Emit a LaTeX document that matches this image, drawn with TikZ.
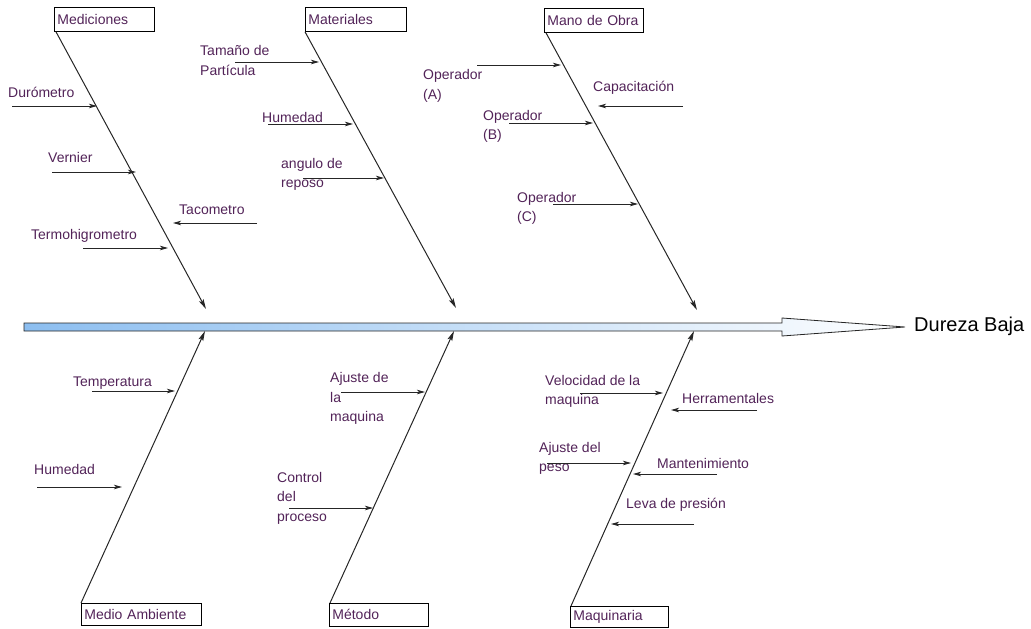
\documentclass[tikz,border=0pt]{standalone}
\usepackage{fontspec}
\setmainfont{Liberation Sans}
\usetikzlibrary{arrows.meta}
\definecolor{lbltext}{RGB}{82,35,88}
\definecolor{spineblue}{RGB}{140,190,240}
\begin{document}
\begin{tikzpicture}[x=1pt,y=-1pt,
  lbl/.style={font=\fontsize{14}{19.5}\selectfont, text=lbltext, inner sep=0pt, anchor=west, align=left},
  catbox/.style={draw=black, line width=0.8pt, anchor=north west, inner xsep=3pt, inner ysep=0pt,
    align=left, text width=#1, minimum height=24pt, font=\fontsize{14}{17}\selectfont, text=lbltext},
  bone/.style={-{Stealth[length=10pt,width=5pt,inset=2pt]}, line width=1pt, black!85},
  sub/.style={-{Stealth[length=8pt,width=4.5pt,inset=2pt]}, line width=0.8pt, black!85}]
\useasboundingbox (0,0) rectangle (1031,629);

% spine
\path[draw=black!85, line width=0.8pt, left color=spineblue, right color=white]
  (24,323) -- (782,323) -- (782,318) -- (905,327) -- (782,336) -- (782,331) -- (24,331) -- cycle;
\node[font=\fontsize{20}{23}\selectfont, inner sep=0pt, anchor=west] (effect) at (914,326) {Dureza Baja};

% category boxes
\node[catbox=94pt] (med) at (54,7) {Mediciones};
\node[catbox=95pt] (mat) at (305,7) {Materiales};
\node[catbox=93pt] (mob) at (544,8) {Mano de Obra};
\node[catbox=114pt, minimum height=22pt] (amb) at (81,603) {Medio Ambiente};
\node[catbox=93pt, minimum height=23pt] (met) at (329,603) {Método};
\node[catbox=92pt, minimum height=21pt] (maq) at (570,606) {Maquinaria};

% bone tips
\coordinate (medT) at (206,309);
\coordinate (matT) at (456,308);
\coordinate (mobT) at (697,310);
\coordinate (ambT) at (205,331);
\coordinate (metT) at (454,331);
\coordinate (maqT) at (694,331);

\draw[bone] ([xshift=2pt]med.south west) -- (medT);
\draw[bone] (mat.south west) -- (matT);
\draw[bone] ([xshift=2pt]mob.south west) -- (mobT);
\draw[bone] (amb.north west) -- (ambT);
\draw[bone] ([xshift=1pt]met.north west) -- (metT);
\draw[bone] ([xshift=1pt]maq.north west) -- (maqT);

% Mediciones
\node[lbl] (l1) at (8,92) {Durómetro};
\coordinate (s1) at (12,106); \coordinate (e1) at (97,106);
\draw[sub] (s1) -- (e1);
\node[lbl] (l2) at (48,157) {Vernier};
\coordinate (s2) at (52,172); \coordinate (e2) at (136,172);
\draw[sub] (s2) -- (e2);
\node[lbl] (l3) at (179,210) {Tacometro};
\coordinate (s3) at (257,223); \coordinate (e3) at (173,223);
\draw[sub] (s3) -- (e3);
\node[lbl] (l4) at (31,236) {Termohigrometro};
\coordinate (s4) at (83,248); \coordinate (e4) at (168,248);
\draw[sub] (s4) -- (e4);

% Materiales
\node[lbl] (l5) at (200,60.5) {Tamaño de\\Partícula};
\coordinate (s5) at (235,62); \coordinate (e5) at (319,62);
\draw[sub] (s5) -- (e5);
\node[lbl] (l6) at (262,117) {Humedad};
\coordinate (s6) at (268,124); \coordinate (e6) at (353,124);
\draw[sub] (s6) -- (e6);
\node[lbl] (l7) at (281,174.5) {angulo de\\reposo};
\coordinate (s7) at (303,178); \coordinate (e7) at (384,178);
\draw[sub] (s7) -- (e7);

% Mano de Obra
\node[lbl] (l8) at (423,86) {Operador\\(A)};
\coordinate (s8) at (477,65); \coordinate (e8) at (561,65);
\draw[sub] (s8) -- (e8);
\node[lbl] (l9) at (593,88) {Capacitación};
\coordinate (s9) at (683,106); \coordinate (e9) at (598,106);
\draw[sub] (s9) -- (e9);
\node[lbl] (l10) at (483,126.5) {Operador\\(B)};
\coordinate (s10) at (509,123); \coordinate (e10) at (593,123);
\draw[sub] (s10) -- (e10);
\node[lbl] (l11) at (517,208.5) {Operador\\(C)};
\coordinate (s11) at (553,204); \coordinate (e11) at (638,204);
\draw[sub] (s11) -- (e11);

% Medio Ambiente
\node[lbl] (l12) at (73,383) {Temperatura};
\coordinate (s12) at (92,391); \coordinate (e12) at (175,391);
\draw[sub] (s12) -- (e12);
\node[lbl] (l13) at (34,469) {Humedad};
\coordinate (s13) at (37,487); \coordinate (e13) at (122,487);
\draw[sub] (s13) -- (e13);

% Método
\node[lbl] (l14) at (330,398.5) {Ajuste de\\la\\maquina};
\coordinate (s14) at (341,392); \coordinate (e14) at (425,392);
\draw[sub] (s14) -- (e14);
\node[lbl] (l15) at (277,498) {Control\\del\\proceso};
\coordinate (s15) at (289,508); \coordinate (e15) at (373,508);
\draw[sub] (s15) -- (e15);

% Maquinaria
\node[lbl] (l16) at (545,391.5) {Velocidad de la\\maquina};
\coordinate (s16) at (580,393); \coordinate (e16) at (663,393);
\draw[sub] (s16) -- (e16);
\node[lbl] (l17) at (682,398) {Herramentales};
\coordinate (s17) at (757,410); \coordinate (e17) at (671,410);
\draw[sub] (s17) -- (e17);
\node[lbl] (l18) at (539,458.5) {Ajuste del\\peso};
\coordinate (s18) at (547,463); \coordinate (e18) at (631,463);
\draw[sub] (s18) -- (e18);
\node[lbl] (l19) at (657,463) {Mantenimiento};
\coordinate (s19) at (717,474); \coordinate (e19) at (633,474);
\draw[sub] (s19) -- (e19);
\node[lbl] (l20) at (626,505) {Leva de presión};
\coordinate (s20) at (694,524); \coordinate (e20) at (611,524);
\draw[sub] (s20) -- (e20);
\end{tikzpicture}
\end{document}
